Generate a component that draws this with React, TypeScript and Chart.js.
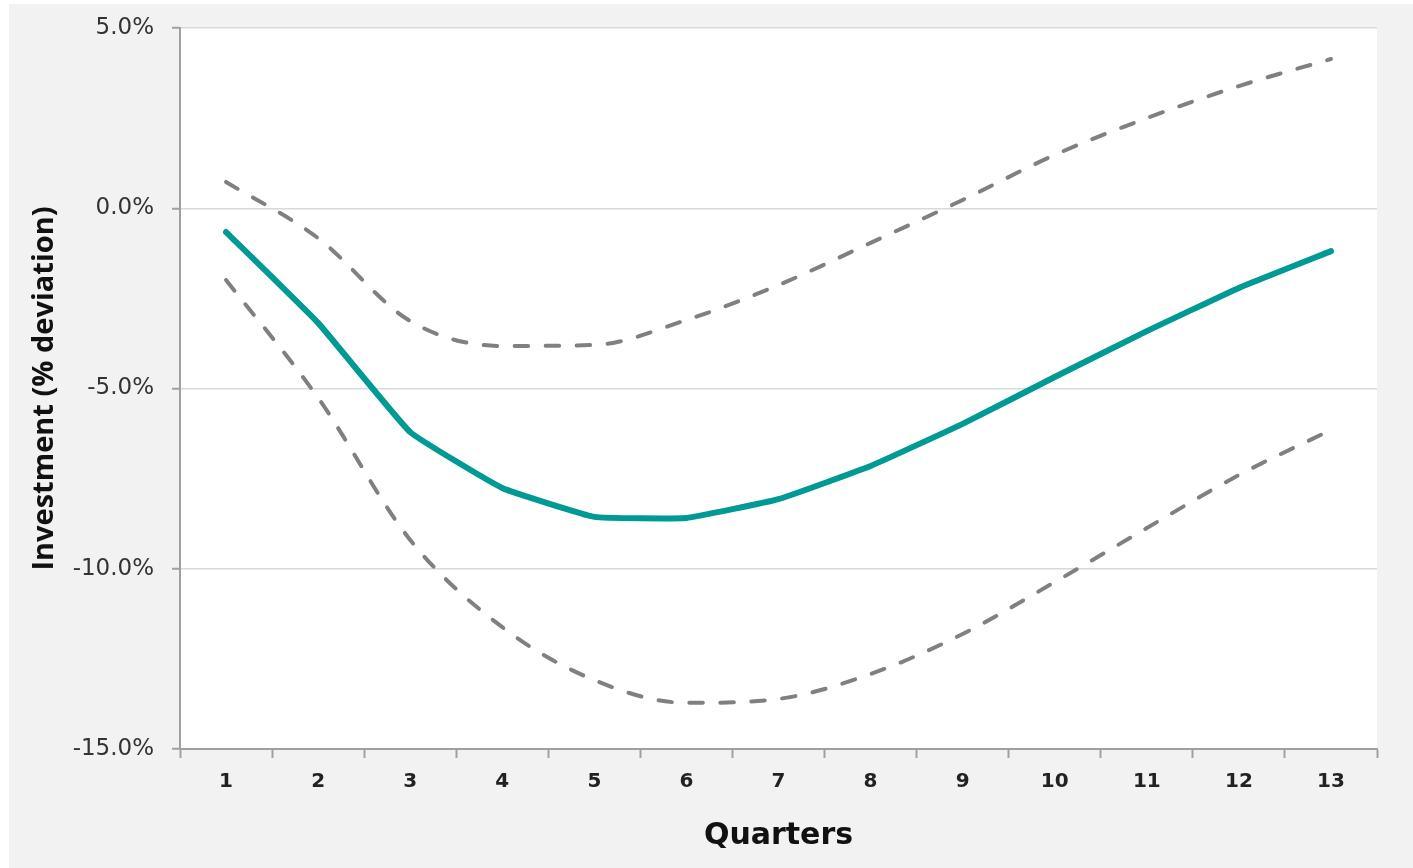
import React, { useEffect, useRef } from "react";
import { Chart, registerables } from "chart.js";

Chart.register(...registerables);

const quarters = ["1", "2", "3", "4", "5", "6", "7", "8", "9", "10", "11", "12", "13"];
const central = [-0.66, -3.18, -6.21, -7.76, -8.56, -8.59, -8.07, -7.15, -5.98, -4.68, -3.41, -2.21, -1.19];
const upperBand = [0.73, -0.83, -3.13, -3.82, -3.79, -3.1, -2.13, -0.96, 0.23, 1.48, 2.5, 3.39, 4.14];
const lowerBand = [-1.99, -5.26, -9.2, -11.62, -13.09, -13.72, -13.61, -12.92, -11.81, -10.37, -8.87, -7.4, -6.15];
const yMin = -15;
const yMax = 5;
const yStep = 5;
const yTitle = "Investment (% deviation)";
const xTitle = "Quarters";

export default function App() {
  const ref = useRef<HTMLCanvasElement>(null);

  useEffect(() => {
    if (!ref.current) return;
    const bgPlugin = {
      id: "bgPlugin",
      beforeDraw(chart: any) {
        const { ctx, chartArea: a, width, height } = chart;
        ctx.save();
        ctx.fillStyle = "#f2f2f2";
        ctx.fillRect(0, 0, width, height);
        ctx.fillStyle = "#ffffff";
        ctx.fillRect(a.left, a.top, a.right - a.left, a.bottom - a.top);
        ctx.restore();
      },
    };
    const chart = new Chart(ref.current, {
      type: "line",
      data: {
        labels: quarters,
        datasets: [
          {
            label: "Investment",
            data: central,
            borderColor: "#009a94",
            borderWidth: 6,
            borderCapStyle: "round",
            borderJoinStyle: "round",
            tension: 0.1,
            pointRadius: 0,
            fill: false,
          },
          {
            label: "Upper band",
            data: upperBand,
            borderColor: "#808080",
            borderWidth: 4,
            borderDash: [13.5, 17.5],
            borderCapStyle: "round",
            cubicInterpolationMode: "monotone",
            pointRadius: 0,
            fill: false,
          },
          {
            label: "Lower band",
            data: lowerBand,
            borderColor: "#808080",
            borderWidth: 4,
            borderDash: [13.5, 17.5],
            borderCapStyle: "round",
            cubicInterpolationMode: "monotone",
            pointRadius: 0,
            fill: false,
          },
        ],
      },
      options: {
        animation: false,
        responsive: false,
        devicePixelRatio: 1,
        layout: { padding: { top: 24, right: 36, left: 0, bottom: 0 } },
        plugins: {
          legend: { display: false },
          tooltip: { enabled: false },
        },
        scales: {
          x: {
            offset: true,
            grid: {
              offset: true,
              drawOnChartArea: false,
              drawTicks: true,
              tickLength: 9,
              tickColor: "#a0a0a0",
              tickWidth: 2,
            },
            border: { color: "#a0a0a0", width: 2 },
            ticks: {
              autoSkip: false,
              maxRotation: 0,
              padding: 12,
              color: "#222222",
              font: { family: "DejaVu Sans", size: 20, weight: "bold" },
            },
            title: {
              display: true,
              text: xTitle,
              color: "#111111",
              font: { family: "DejaVu Sans", size: 30, weight: "bold" },
              padding: { top: 0, bottom: 14 },
            },
            afterFit(scale: any) {
              scale.height = 119;
              scale.paddingLeft = 0;
              scale.paddingRight = 0;
            },
          },
          y: {
            min: yMin,
            max: yMax,
            grid: {
              color: "#d9d9d9",
              lineWidth: 1.5,
              tickLength: 8,
              tickColor: "#a0a0a0",
              tickWidth: 2,
            },
            border: { color: "#a0a0a0", width: 2 },
            ticks: {
              stepSize: yStep,
              padding: 18,
              color: "#333333",
              font: { family: "DejaVu Sans", size: 23 },
              callback: (v: any) => Number(v).toFixed(1) + "%",
            },
            title: {
              display: true,
              text: yTitle,
              color: "#111111",
              font: { family: "Open Sans", size: 29, weight: "bold" },
              padding: { top: 18, bottom: 0 },
            },
            afterFit(scale: any) {
              scale.width = 171;
              scale.paddingTop = 0;
              scale.paddingBottom = 0;
            },
          },
        },
      },
      plugins: [bgPlugin],
    } as any);
    return () => chart.destroy();
  }, []);

  return (
    <div style={{ position: "fixed", left: 9, top: 4, width: 1404, height: 864 }}>
      <canvas ref={ref} width={1404} height={864} style={{ display: "block", width: 1404, height: 864 }} />
    </div>
  );
}
